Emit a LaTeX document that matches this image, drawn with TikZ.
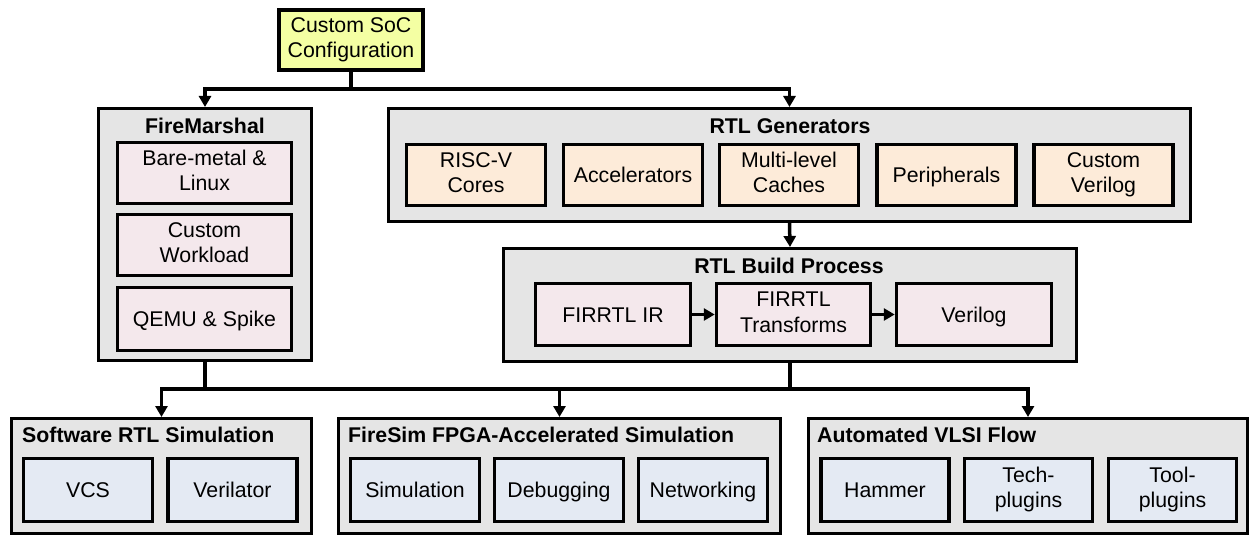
\documentclass[tikz,border=0pt]{standalone}
\usepackage{fontspec}
\setmainfont{Liberation Sans}
\usetikzlibrary{arrows.meta}

\definecolor{cfgyellow}{HTML}{F4FFA3}
\definecolor{grpgray}{HTML}{E5E5E5}
\definecolor{swpink}{HTML}{F4E8EC}
\definecolor{genorange}{HTML}{FDEBD9}
\definecolor{simblue}{HTML}{E4EAF3}

% strut so that every box text sits at the same height
\newcommand\boxstrut{\rule[-5pt]{0pt}{25.3pt}}

\tikzset{
	grp/.style={draw, line width=3pt, fill=grpgray, inner sep=0pt},
	blk/.style={draw, line width=3.5pt, inner sep=0pt, align=center, font=\fontsize{21.3}{25.5}\selectfont,
		execute at begin node=\boxstrut, execute at end node=\boxstrut},
	ttl/.style={font=\bfseries\fontsize{21.3}{25.5}\selectfont, inner sep=0pt, anchor=base},
	conn/.style={line width=3.5pt, -{Triangle[length=11pt,width=12pt]}},
}

\begin{document}
\begin{tikzpicture}[x=1pt, y=-1pt]
	\useasboundingbox (0,0) rectangle (1252,537);
	
	% configuration
	\node[blk, line width=4pt, fill=cfgyellow, minimum width=144pt, minimum height=60pt] (cfg) at (351,40) {Custom SoC\\Configuration};
	
	% FireMarshal
	\node[grp, minimum width=213pt, minimum height=252pt] (marshal) at (205,234.5) {};
	\node[ttl] (marshaltitle) at (205,134) {FireMarshal};
	\node[blk, fill=swpink, minimum width=174pt, minimum height=61pt] (bm) at (204.5,173) {Bare-metal \&\\Linux};
	\node[blk, fill=swpink, minimum width=174pt, minimum height=61pt] (wl) at (204.5,245) {Custom\\Workload};
	\node[blk, fill=swpink, minimum width=174pt, minimum height=63pt] (qemu) at (204.5,319) {QEMU \& Spike};
	
	% RTL generators
	\node[grp, minimum width=802pt, minimum height=113pt] (gen) at (789.5,165) {};
	\node[ttl] (gentitle) at (790,134) {RTL Generators};
	\node[blk, fill=genorange, minimum width=139pt, minimum height=61pt] (rv) at (476,175) {RISC-V\\Cores};
	\node[blk, fill=genorange, minimum width=139pt, minimum height=61pt] (acc) at (633,175) {Accelerators};
	\node[blk, fill=genorange, minimum width=139pt, minimum height=61pt] (cache) at (789,175) {Multi-level\\Caches};
	\node[blk, fill=genorange, minimum width=139pt, minimum height=61pt] (peri) at (946.5,175) {Peripherals};
	\node[blk, fill=genorange, minimum width=139pt, minimum height=61pt] (cver) at (1103.5,175) {Custom\\Verilog};
	
	% RTL build
	\node[grp, minimum width=573pt, minimum height=113pt] (build) at (790,305) {};
	\node[ttl] (buildtitle) at (789,273) {RTL Build Process};
	\node[blk, fill=swpink, minimum width=155pt, minimum height=62pt] (fir) at (613,314.5) {FIRRTL IR};
	\node[blk, fill=swpink, minimum width=154pt, minimum height=62pt] (xf) at (793.5,314.5) {FIRRTL\\Transforms};
	\node[blk, fill=swpink, minimum width=155pt, minimum height=62pt] (vlog) at (974,314.5) {Verilog};
	
	% software RTL simulation
	\node[grp, minimum width=300pt, minimum height=115pt] (swsim) at (161.5,476) {};
	\node[ttl, anchor=base west] (swsimtitle) at (22,442) {Software RTL Simulation};
	\node[blk, fill=simblue, minimum width=129pt, minimum height=63pt] (vcs) at (88,490) {VCS};
	\node[blk, fill=simblue, minimum width=129pt, minimum height=63pt] (vltr) at (232.5,490) {Verilator};
	
	% FireSim
	\node[grp, minimum width=442pt, minimum height=115pt] (firesim) at (559.5,476) {};
	\node[ttl, anchor=base west] (firesimtitle) at (348,442) {FireSim FPGA-Accelerated Simulation};
	\node[blk, fill=simblue, minimum width=129pt, minimum height=63pt] (fsim) at (415,490) {Simulation};
	\node[blk, fill=simblue, minimum width=129pt, minimum height=63pt] (fdbg) at (559,490) {Debugging};
	\node[blk, fill=simblue, minimum width=129pt, minimum height=63pt] (fnet) at (703,490) {Networking};
	
	% VLSI flow
	\node[grp, minimum width=439pt, minimum height=115pt] (vlsi) at (1028,476) {};
	\node[ttl, anchor=base west] (vlsititle) at (817,442) {Automated VLSI Flow};
	\node[blk, fill=simblue, minimum width=128pt, minimum height=63pt] (ham) at (885,490) {Hammer};
	\node[blk, fill=simblue, minimum width=128pt, minimum height=63pt] (tech) at (1028.5,490) {Tech-\\plugins};
	\node[blk, fill=simblue, minimum width=128pt, minimum height=63pt] (tool) at (1172.5,490) {Tool-\\plugins};
	
	% connectors
	\draw[conn] (cfg.south) -- ++(0,17) -| (marshal.north);
	\draw[conn] (cfg.south) -- ++(0,17) -| (gen.north);
	\draw[conn] (gen.south) -- (build.north);
	\draw[conn] (fir.east) -- (xf.west);
	\draw[conn] (xf.east) -- (vlog.west);
	\draw[conn] (marshal.south) -- ++(0,27) -| (firesim.north);
	\draw[conn] (build.south) -- ++(0,26) -| (swsim.north);
	\draw[conn] (build.south) -- ++(0,26) -| (vlsi.north);
\end{tikzpicture}
\end{document}
